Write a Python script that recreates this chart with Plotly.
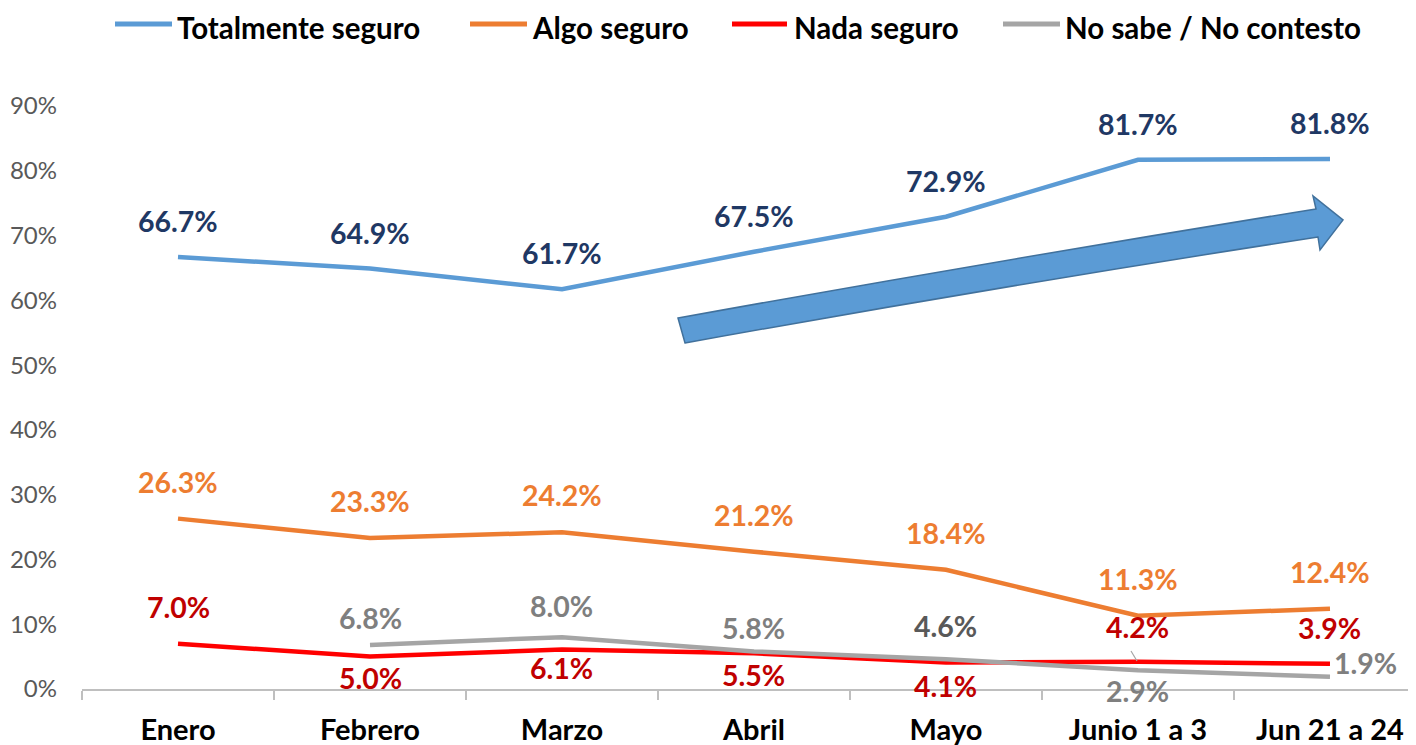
import plotly.graph_objects as go

categories = ["Enero", "Febrero", "Marzo", "Abril", "Mayo", "Junio 1 a 3", "Jun 21 a 24"]
totalmente = [66.7, 64.9, 61.7, 67.5, 72.9, 81.7, 81.8]
algo = [26.3, 23.3, 24.2, 21.2, 18.4, 11.3, 12.4]
nada = [7.0, 5.0, 6.1, 5.5, 4.1, 4.2, 3.9]
nosabe = [None, 6.8, 8.0, 5.8, 4.6, 2.9, 1.9]
y_ticks = [0, 10, 20, 30, 40, 50, 60, 70, 80, 90]
y_tick_text = [f"{v}%" for v in y_ticks]

FONT = "Lato"
OFF = 8  # page body margin
W, H = 1416 - OFF, 745 - OFF
# plot area in reference (window) pixels
PX0, PX1, PY0, PY1 = 82, 1416, 106, 689
L, R, T, B = PX0 - OFF, 1416 - PX1, PY0 - OFF, 745 - PY1

series = [
    ("Totalmente seguro", totalmente, "#5B9BD5", "#1F3864"),
    ("Algo seguro", algo, "#ED7D31", "#ED7D31"),
    ("Nada seguro", nada, "#FF0000", "#C00000"),
    ("No sabe / No contesto", nosabe, "#A5A5A5", "#7F7F7F"),
]

pw, ph = PX1 - PX0, PY1 - PY0


def px(x, y):
    return (x - PX0) / pw, (PY1 - y) / ph


def P(x, y):
    a, b = px(x, y)
    return f"{a:.5f},{b:.5f}"


fig = go.Figure()
for name, vals, col, _ in series:
    fig.add_trace(go.Scatter(
        x=categories, y=vals, name=name, mode="lines",
        line=dict(color=col, width=4.5), connectgaps=False, showlegend=False,
    ))

# label offsets (xshift, yshift) in px per series/point
shifts = {
    "Totalmente seguro": [(0, 36)] * 7,
    "Algo seguro": [(0, 37)] * 7,
    "Nada seguro": [(0, 37), (0, -21), (0, -19), (0, -22), (0, -24), (0, 35), (0, 36)],
    "No sabe / No contesto": [None, (0, 27), (0, 31), (0, 23), (0, 33), (0, -21), (36, 14)],
}
label_colors = {"No sabe / No contesto": ["#7F7F7F", "#7F7F7F", "#7F7F7F", "#7F7F7F", "#595959", "#7F7F7F", "#7F7F7F"]}

for name, vals, col, tcol in series:
    for i, v in enumerate(vals):
        if v is None:
            continue
        xs, ys = shifts[name][i]
        c = label_colors.get(name, [tcol] * 7)[i]
        fig.add_annotation(
            x=categories[i], y=v, text=f"{v:.1f}%", showarrow=False,
            xshift=xs, yshift=ys,
            font=dict(family=FONT, size=28.5, color=c, weight="bold"),
        )

# custom legend (line sample + text), matching the reference spacing
legend_pos = [(115, 172, 175), (470, 527, 530), (732, 787, 792), (1003, 1060, 1063)]
for (name, _, col, _), (lx0, lx1, tx) in zip(series, legend_pos):
    a0, yy = px(lx0, 24)
    a1, _ = px(lx1, 24)
    fig.add_shape(type="line", x0=a0, x1=a1, y0=yy, y1=yy, xref="paper", yref="paper",
                  line=dict(color=col, width=5))
    ta, tb = px(tx, 8)
    fig.add_annotation(x=ta, y=tb, xref="paper", yref="paper", text=name, showarrow=False,
                       xanchor="left", yanchor="top",
                       font=dict(family=FONT, size=29.5, color="black", weight="bold"))

arrow = (
    f"M {P(678,318)} Q {P(1000,260)} {P(1316,209)} L {P(1313,196)} L {P(1343,220)} "
    f"L {P(1320,250)} L {P(1318,237)} Q {P(1000,286)} {P(685,343)} Z"
)
fig.add_shape(type="path", path=arrow, xref="paper", yref="paper",
              fillcolor="#5B9BD5", line=dict(color="#41719C", width=1.5), layer="above")

# small leader line for 2.9%
x0, y0 = px(1131, 651)
x1, y1 = px(1137, 661)
fig.add_shape(type="line", x0=x0, y0=y0, x1=x1, y1=y1, xref="paper", yref="paper",
              line=dict(color="#A5A5A5", width=1.2))

fig.update_layout(
    width=W, height=H,
    margin=dict(l=L, r=R, t=T, b=B, autoexpand=False),
    plot_bgcolor="white", paper_bgcolor="white",
    font=dict(family=FONT),
    showlegend=False,
    xaxis=dict(
        type="category", range=[-0.5, 6.448], showgrid=False, zeroline=False,
        showline=True, linecolor="#BFBFBF", linewidth=2,
        ticks="outside", tickson="boundaries", ticklen=9, tickcolor="#BFBFBF", tickwidth=2,
        tickfont=dict(family=FONT, size=29, color="black", weight="bold"),
        ticklabelstandoff=14,
    ),
    yaxis=dict(
        range=[0, 90], tickvals=y_ticks, ticktext=y_tick_text, showgrid=False, zeroline=False,
        showline=False, ticks="", tickfont=dict(family=FONT, size=24, color="#595959"),
        ticklabelstandoff=24,
    ),
)

fig.write_html("out.html")
